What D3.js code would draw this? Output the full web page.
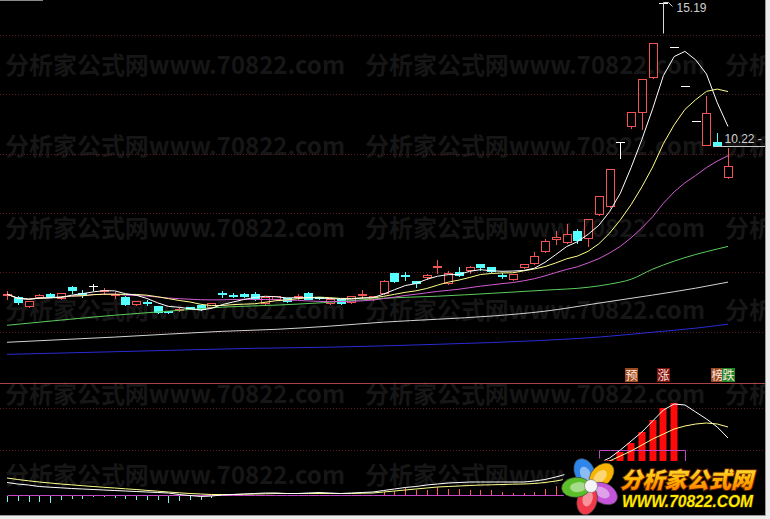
<!DOCTYPE html>
<html>
<head>
<meta charset="utf-8">
<script src="https://cdn.jsdelivr.net/npm/d3@7"></script>
<style>
html, body { margin: 0; padding: 0; background: #ececec; overflow: hidden; }
</style>
</head>
<body>
<div id="container"></div>
<script>
// daily candles, oldest first
var opens  = [5.04,4.97,4.65,4.97,5.07,4.93,5.31,5.12,5.35,5.17, 5.04,4.97,4.72,4.81,4.65,4.49,4.51,4.62,4.69,4.62,
              5.12,5.05,5.07,5.07,4.76,4.90,4.93,4.98,5.10,4.97, 4.76,4.90,4.79,5.04,4.90,5.10,5.80,5.75,5.52,5.66,
              6.03,5.45,5.84,5.90,6.11,6.01,5.75,5.59,6.01,6.15, 6.57,6.98,6.88,7.26,7.02,7.85,8.13,10.37,10.91,11.40,
              12.61,15.19,13.67,12.30,11.07,10.25,10.36,9.14];
var highs  = [5.21,5.04,4.86,5.10,5.14,5.14,5.38,5.24,5.45,5.31, 5.17,5.04,4.86,4.90,4.69,4.51,4.62,4.65,4.72,4.79,
              5.21,5.14,5.14,5.17,5.00,5.04,4.97,5.10,5.17,5.00, 4.93,4.93,5.04,5.24,5.04,5.59,5.84,5.87,5.56,5.80,
              6.29,5.90,6.04,6.08,6.15,6.04,5.84,5.80,6.15,6.57, 7.02,7.29,7.54,7.36,7.71,8.51,9.43,10.37,11.41,12.55,
              13.81,15.19,13.67,12.30,11.07,11.99,10.70,10.18];
var lows   = [4.90,4.72,4.62,4.93,4.97,4.90,5.10,4.97,5.21,5.07, 4.93,4.69,4.69,4.69,4.41,4.41,4.48,4.55,4.51,4.58,
              4.97,4.97,4.97,4.86,4.72,4.86,4.79,4.90,4.90,4.90, 4.72,4.72,4.76,4.93,4.86,5.07,5.49,5.56,5.31,5.59,
              5.80,5.42,5.70,5.80,5.90,5.84,5.63,5.56,5.97,6.11, 6.53,6.81,6.84,6.84,6.74,7.82,8.09,9.80,10.84,10.81,
              12.58,15.19,13.67,12.30,11.07,10.24,10.22,9.10];
var closes = [5.07,4.79,4.83,5.04,5.00,5.10,5.21,5.09,5.35,5.21, 5.07,4.72,4.83,4.78,4.45,4.45,4.57,4.57,4.55,4.76,
              5.09,5.02,5.00,4.91,4.97,5.00,4.83,5.02,4.91,4.93, 4.90,4.76,5.00,5.09,5.00,5.52,5.52,5.71,5.45,5.73,
              6.06,5.80,5.73,6.01,6.01,5.87,5.71,5.77,6.11,6.39, 6.91,7.05,7.16,6.95,7.68,8.48,9.43,10.37,11.41,12.55,
              13.81,15.19,13.67,12.30,11.07,11.36,10.22,9.52];

// long averages (their history starts before the first candle)
var ma60Idx  = [0,5,10,15,20,25,30,35,40,45,50,54,56,58,60,62,64,66,67];
var ma60Val  = [3.99,4.17,4.34,4.48,4.62,4.69,4.79,4.93,5.00,5.10,5.21,5.31,5.42,5.59,5.94,6.22,6.45,6.64,6.73];
var ma120Idx = [0,10,20,25,30,35,40,45,50,55,60,64,67];
var ma120Val = [3.40,3.58,3.78,3.85,3.96,4.10,4.20,4.31,4.48,4.76,5.04,5.28,5.49];
var ma250Idx = [0,12,23,30,40,50,55,60,64,67];
var ma250Val = [2.98,3.09,3.19,3.23,3.33,3.47,3.58,3.75,3.89,4.03];

// lower indicator
var stickVal = [-0.7,-0.6,-0.7,-0.7,-0.8,-0.53,-0.4,-0.37,-0.2,-0.2, -0.33,-0.37,-0.53,-0.53,-0.53,-0.8,-0.6,-0.53,-0.47,-0.27,
                0,0,0,0,0,0,0,0,0,0, 0,0,0,0,0,0.3,0.4,0.7,0.5,0.5,
                0.8,0.6,0.6,0.5,0.5,0.5,0.3,0.2,0.2,0.3, 0.6,0.9,1.0,1.1,1.3,0,0,0,0,0,
                0,0,0,0,0,0,0,0];
var barVal   = [0,0,0,0,0,0,0,0,0,0, 0,0,0,0,0,0,0,0,0,0, 0,0,0,0,0,0,0,0,0,0, 0,0,0,0,0,0,0,0,0,0,
                0,0,0,0,0,0,0,0,0,0, 0,0,0,0,0,2.5,3.5,4.3,5.2,6.3, 7.5,8.7,9.2,0,0,0,0,0];
var lineA    = [1.25,1.1,1.0,0.85,0.78,0.72,0.65,0.6,0.55,0.5, 0.45,0.4,0.35,0.3,0.25,0.2,0.05,-0.05,-0.15,-0.1,
                0,0.05,0.1,0.15,0.2,0.2,0.15,0.15,0.2,0.25, 0.2,0.15,0.2,0.25,0.3,0.45,0.6,0.75,0.85,1.0,
                1.1,1.2,1.25,1.3,1.3,1.3,1.3,1.3,1.3,1.4, 1.55,1.8,2.1,2.4,2.8,3.2,3.7,4.5,5.4,6.3,
                7.4,8.5,9.1,9.0,8.3,7.6,6.8,5.7];
var lineB    = [1.7,1.55,1.42,1.3,1.2,1.1,1.02,0.93,0.85,0.77, 0.7,0.62,0.55,0.46,0.38,0.3,0.22,0.15,0.1,0.05,
                0.05,0.05,0.08,0.1,0.12,0.15,0.15,0.15,0.15,0.15, 0.15,0.15,0.15,0.18,0.2,0.3,0.4,0.5,0.6,0.7,
                0.8,0.85,0.9,0.95,1.0,1.02,1.05,1.08,1.1,1.15, 1.25,1.4,1.6,1.9,2.3,2.8,3.4,3.9,4.4,5.0,
                5.6,6.1,6.6,6.9,7.1,7.2,7.1,6.8];
var stepVal  = [0,0,0,0,0,0,0,0,0,0, 0,0,0,0,0,0,0,0,0,0, 0,0,0,0,0,0,0,0,0,0, 0,0,0,0,0,0,0,0,0,0,
                0,0,0,0,0,0,0,0,0,0, 0,0,0,0,0,4.5,4.5,4.5,4.5,4.5, 4.5,4.5,4.5,0,0,0,0,0];

var tagText = ['预', '涨', '榜', '跌'];
var tagIdx  = [58, 61, 66, 67];
var markLowIdx = 66;
var watermark = '分析家公式网www.70822.com';

var width = 770, height = 519;
var tagFill = ['#9c4a22', '#7d1212', '#9c4a22', '#21862a'];

var svg = d3.select('#container').append('svg')
	.attr('width', width)
	.attr('height', height);

svg.append('rect').attr('width', width).attr('height', height).attr('fill', '#ececec');
svg.append('rect').attr('width', 766).attr('height', 516).attr('fill', '#000');

var defs = svg.append('defs');
defs.append('clipPath').attr('id', 'clip')
	.append('rect').attr('width', 765).attr('height', 515);

var gold = defs.append('linearGradient').attr('id', 'gold')
	.attr('x1', 0).attr('y1', 0).attr('x2', 0).attr('y2', 1);
gold.append('stop').attr('offset', '0%').attr('stop-color', '#fff45a');
gold.append('stop').attr('offset', '55%').attr('stop-color', '#ffb400');
gold.append('stop').attr('offset', '100%').attr('stop-color', '#ff6a00');

var plot = svg.append('g').attr('clip-path', 'url(#clip)');

// watermark
[74, 155, 237, 319, 403, 484].forEach(function(y) {
	[5, 365, 725].forEach(function(x) {
		plot.append('text')
			.attr('x', x).attr('y', y)
			.attr('font-family', '"Noto Sans CJK SC", sans-serif')
			.attr('font-weight', 'bold')
			.attr('font-size', 24)
			.attr('textLength', 340)
			.attr('lengthAdjust', 'spacingAndGlyphs')
			.attr('fill', '#161616')
			.text(watermark);
	});
});

// dotted grid + panel divider
[35, 94, 154, 213, 272, 332, 408, 450].forEach(function(y) {
	plot.append('line')
		.attr('x1', 0).attr('x2', 765)
		.attr('y1', y + 0.5).attr('y2', y + 0.5)
		.attr('stroke', '#5a1c1c')
		.attr('stroke-dasharray', '1,2')
		.attr('shape-rendering', 'crispEdges');
});
plot.append('line').attr('x1', 0).attr('x2', 765).attr('y1', 383.5).attr('y2', 383.5)
	.attr('stroke', '#a84444');

var xScale = d3.scaleLinear().domain([0, closes.length - 1]).range([7, 728]);
var yScale = d3.scaleLinear().domain([2.02, 15.29]).range([382, 0]);
var iScale = d3.scaleLinear().domain([-2, 11.2]).range([515, 383]);

function px(i) { return Math.round(xScale(i)) + 0.5; }
function py(v) { return Math.round(yScale(v)) + 0.5; }

var candles = closes.map(function(c, i) {
	return { i: i, o: opens[i], h: highs[i], l: lows[i], c: c };
});

// candles
var kg = plot.append('g').attr('shape-rendering', 'crispEdges');
candles.forEach(function(d) {
	var x = px(d.i), yo = py(d.o), yc = py(d.c), yh = py(d.h), yl = py(d.l);
	if (d.c > d.o) {
		var col = '#f25454';
		if (yh < yc) kg.append('line').attr('x1', x).attr('x2', x).attr('y1', yh).attr('y2', yc).attr('stroke', col);
		if (yl > yo) kg.append('line').attr('x1', x).attr('x2', x).attr('y1', yo).attr('y2', yl).attr('stroke', col);
		kg.append('rect').attr('x', x - 4).attr('y', yc).attr('width', 8).attr('height', Math.max(1, yo - yc))
			.attr('fill', 'none').attr('stroke', col);
	} else if (d.c < d.o) {
		var col2 = '#54ffff';
		kg.append('line').attr('x1', x).attr('x2', x).attr('y1', yh).attr('y2', yl).attr('stroke', col2);
		kg.append('rect').attr('x', x - 4.5).attr('y', yo - 0.5).attr('width', 9).attr('height', Math.max(1, yc - yo + 1))
			.attr('fill', col2);
	} else {
		kg.append('line').attr('x1', x).attr('x2', x).attr('y1', yh).attr('y2', yl).attr('stroke', '#fff');
		kg.append('line').attr('x1', x - 4.5).attr('x2', x + 4.5).attr('y1', yc).attr('y2', yc).attr('stroke', '#fff');
	}
});

// moving averages
function movingAvg(n) {
	return closes.map(function(c, i) {
		return { i: i, v: d3.mean(closes.slice(Math.max(0, i - n + 1), i + 1)) };
	});
}
function pairs(idx, val) {
	return idx.map(function(k, j) { return { i: k, v: val[j] }; });
}

var maLine = d3.line().x(function(d) { return xScale(d.i); }).y(function(d) { return yScale(d.v); });
var maSmooth = d3.line().x(function(d) { return xScale(d.i); }).y(function(d) { return yScale(d.v); })
	.curve(d3.curveMonotoneX);

var maSeries = [
	{ data: pairs(ma250Idx, ma250Val), color: '#2a2ad6', gen: maSmooth },
	{ data: pairs(ma120Idx, ma120Val), color: '#d2d2d2', gen: maSmooth },
	{ data: pairs(ma60Idx, ma60Val),   color: '#5ccc5c', gen: maSmooth },
	{ data: movingAvg(20), color: '#d35cd3', gen: maLine },
	{ data: movingAvg(10), color: '#ffff8a', gen: maLine },
	{ data: movingAvg(5),  color: '#ffffff', gen: maLine }
];
maSeries.forEach(function(s) {
	plot.append('path')
		.attr('d', s.gen(s.data))
		.attr('fill', 'none')
		.attr('stroke', s.color)
		.attr('stroke-width', 1);
});

// high / marked low labels
var hiIdx = d3.maxIndex(highs);
var hx = px(hiIdx), hy = py(highs[hiIdx]);
plot.append('path')
	.attr('d', 'M' + hx + ',' + (hy + 30) + 'V' + (hy - 1) + 'H' + (hx + 5) + 'L' + (hx + 9) + ',' + (hy + 3))
	.attr('fill', 'none').attr('stroke', '#d8d8d8');
plot.append('text')
	.attr('x', hx + 13).attr('y', hy + 8)
	.attr('font-family', '"Liberation Sans", Arial, sans-serif')
	.attr('font-size', 12)
	.attr('fill', '#d0d0d0')
	.text(highs[hiIdx].toFixed(2));

var lx = px(markLowIdx), ly = py(lows[markLowIdx]);
plot.append('line').attr('x1', lx - 3).attr('x2', 765).attr('y1', ly).attr('y2', ly).attr('stroke', '#c8c8c8');
plot.append('text')
	.attr('x', lx + 7).attr('y', ly - 4)
	.attr('font-family', '"Liberation Sans", Arial, sans-serif')
	.attr('font-size', 12)
	.attr('fill', '#d0d0d0')
	.text(lows[markLowIdx].toFixed(2) + ' -');

// signal tags
tagText.forEach(function(t, j) {
	var x = px(tagIdx[j]);
	plot.append('rect').attr('x', x - 6.5).attr('y', 368).attr('width', 13).attr('height', 14).attr('fill', tagFill[j]);
	plot.append('text')
		.attr('x', x).attr('y', 380)
		.attr('text-anchor', 'middle')
		.attr('font-family', '"Noto Sans CJK SC", sans-serif')
		.attr('font-size', 12)
		.attr('fill', '#ffe6dc')
		.text(t);
});

// lower panel
var lg = plot.append('g');
var y0 = Math.round(iScale(0)) + 0.5;
stickVal.forEach(function(v, i) {
	if (!v) return;
	lg.append('line')
		.attr('x1', px(i)).attr('x2', px(i))
		.attr('y1', y0).attr('y2', iScale(v))
		.attr('stroke', v < 0 ? '#7ff0f0' : '#ff5a5a')
		.attr('shape-rendering', 'crispEdges');
});
barVal.forEach(function(v, i) {
	if (!v) return;
	lg.append('rect')
		.attr('x', px(i) - 4).attr('y', iScale(v))
		.attr('width', 7).attr('height', y0 - iScale(v))
		.attr('fill', '#ff0a0a');
});

var indLine = d3.line().x(function(d, i) { return xScale(i); }).y(function(d) { return iScale(d); });
lg.append('path')
	.attr('d', d3.line().x(function(d, i) { return px(i); }).y(function(d) { return Math.round(iScale(d)) + 0.5; })
		.curve(d3.curveStepAfter)(stepVal))
	.attr('fill', 'none').attr('stroke', '#c448c4');
lg.append('path').attr('d', indLine(lineB)).attr('fill', 'none').attr('stroke', '#ffff8a');
lg.append('path').attr('d', indLine(lineA)).attr('fill', 'none').attr('stroke', '#ffffff');

// frame
svg.append('line').attr('x1', 0).attr('x2', 43).attr('y1', 0.5).attr('y2', 0.5).attr('stroke', '#8a8a8a');
svg.append('line').attr('x1', 765.5).attr('x2', 765.5).attr('y1', 0).attr('y2', 516).attr('stroke', '#9a9a9a');
svg.append('line').attr('x1', 0).attr('x2', 766).attr('y1', 515.5).attr('y2', 515.5).attr('stroke', '#9a9a9a');

// site logo (sits on its own black plate)
var logo = svg.append('g');
logo.append('rect').attr('x', 603).attr('y', 461).attr('width', 162).attr('height', 54).attr('fill', '#000');
var fl = logo.append('g').attr('transform', 'translate(591,486)');
fl.append('circle').attr('r', 29).attr('fill', '#000');
[
	{ a: -115, c: '#2f86ea' },
	{ a: -45,  c: '#f7b400' },
	{ a: 30,   c: '#c455d8' },
	{ a: 105,  c: '#f03a4a' },
	{ a: 175,  c: '#5cbf2a' }
].forEach(function(p) {
	var g = fl.append('g').attr('transform', 'rotate(' + p.a + ') translate(15,0)');
	g.append('ellipse').attr('rx', 14.5).attr('ry', 10).attr('fill', p.c).attr('stroke', '#3a3a3a').attr('stroke-width', 0.6);
	g.append('ellipse').attr('cx', -2).attr('rx', 8).attr('ry', 5).attr('fill', '#fff').attr('opacity', 0.45);
});
fl.append('circle').attr('r', 6.5).attr('fill', '#f4f4f4').attr('stroke', '#888').attr('stroke-width', 0.8);

logo.append('text')
	.attr('x', 620).attr('y', 488)
	.attr('font-family', '"Noto Sans CJK SC", sans-serif')
	.attr('font-weight', 900)
	.attr('font-style', 'italic')
	.attr('font-size', 22)
	.attr('textLength', 133)
	.attr('lengthAdjust', 'spacingAndGlyphs')
	.attr('fill', 'url(#gold)')
	.attr('stroke', '#6a2600')
	.attr('stroke-width', 2)
	.attr('paint-order', 'stroke')
	.text('分析家公式网');
logo.append('text')
	.attr('x', 622).attr('y', 507)
	.attr('font-family', '"Liberation Sans", Arial, sans-serif')
	.attr('font-weight', 'bold')
	.attr('font-style', 'italic')
	.attr('font-size', 16)
	.attr('textLength', 131)
	.attr('lengthAdjust', 'spacingAndGlyphs')
	.attr('fill', '#ffe800')
	.attr('stroke', '#302400')
	.attr('stroke-width', 1.5)
	.attr('paint-order', 'stroke')
	.text('WWW.70822.COM');
</script>
</body>
</html>
